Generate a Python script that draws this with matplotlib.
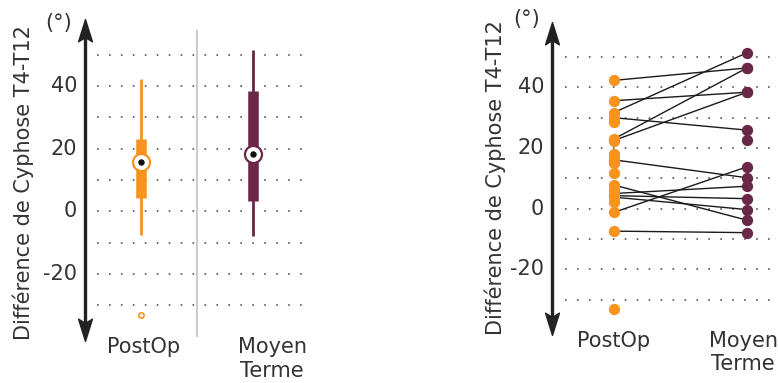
import numpy as np
import matplotlib
matplotlib.use("Agg")
import matplotlib.pyplot as plt
from matplotlib.path import Path

plt.rcParams['font.family'] = ['DejaVu Sans']
plt.rcParams['lines.scale_dashes'] = False

# Paired measurements (NaN where a patient has only one time point)
postop = [42.3, 35.6, 31.7, 30.0, 23.0, 22.5, 16.1, 7.8, 5.0, 4.3, 3.8, -1.2, -7.4,
          28.6, 22.3, 18.0, 17.0, 15.2, 11.7, 6.0, 2.2, -33.1, np.nan]
moyen_terme = [46.4, 38.4, 51.4, 25.9, 46.4, 38.4, 10.2, -3.8, 7.4, 3.3, -0.3, 13.8, -7.9,
               np.nan, np.nan, np.nan, np.nan, np.nan, np.nan, np.nan, np.nan, np.nan, 22.6]

categories = ["PostOp", "Moyen\nTerme"]
y_ticks = [40, 20, 0, -20]
grid_levels = [50, 40, 30, 20, 10, 0, -10, -20, -30]
y_label = "Différence de Cyphose T4-T12"
unit_label = "(°)"

ORANGE = "#F7931E"
MAROON = "#6B2747"
TEXT = "#333333"
AXIS = "#222222"
FS = 15

W, H = 778, 383
fig = plt.figure(figsize=(W / 100, H / 100), dpi=100)


def px_axes(left, top, right, bottom):
    return fig.add_axes([left / W, 1 - bottom / H, (right - left) / W, (bottom - top) / H])


# notched arrow head
head = Path([(0, 1), (0.5, -0.6), (0, -0.3), (-0.5, -0.6), (0, 1)],
            [Path.MOVETO, Path.LINETO, Path.LINETO, Path.LINETO, Path.CLOSEPOLY])
head_down = Path(head.vertices * np.array([1, -1]), head.codes)


def decorate(ax, grid_x0, grid_x1):
    ax.set_ylim(-40, 60)
    for s in ax.spines.values():
        s.set_visible(False)
    ax.set_xticks([])
    ax.set_yticks([])
    ax.hlines(grid_levels, grid_x0, grid_x1, colors="#555555", linewidth=1.2,
              linestyles=(0, (1.2, 7.4)), zorder=1)
    # double-headed vertical axis
    ax.plot([0, 0], [0.03, 0.97], transform=ax.transAxes, color=AXIS, lw=2.4,
            solid_capstyle="butt", clip_on=False, zorder=5)
    ax.plot([0], [0.97], transform=ax.transAxes, marker=head, markersize=20,
            color=AXIS, clip_on=False, zorder=6)
    ax.plot([0], [0.03], transform=ax.transAxes, marker=head_down, markersize=20,
            color=AXIS, clip_on=False, zorder=6)
    for t in y_ticks:
        ax.annotate(str(t), xy=(0, t), xycoords=("axes fraction", "data"),
                    xytext=(-5.5, 0), textcoords="offset points",
                    ha="right", va="center", fontsize=FS, color=TEXT)


def cat_label(ax, x, text):
    ax.annotate(text, xy=(x, 0), xycoords=("data", "axes fraction"),
                xytext=(0, -0.5), textcoords="offset points", ha="center", va="top",
                fontsize=FS, color=TEXT, linespacing=1.2, annotation_clip=False)


def tukey_stats(values):
    v = np.sort(np.asarray([x for x in values if not np.isnan(x)]))
    n = len(v)
    med = np.median(v)
    half = (n + 1) // 2
    lower, upper = v[:half], v[n - half:]
    q1, q3 = np.median(lower), np.median(upper)
    iqr = q3 - q1
    inside = v[(v >= q1 - 1.5 * iqr) & (v <= q3 + 1.5 * iqr)]
    out = v[(v < q1 - 1.5 * iqr) | (v > q3 + 1.5 * iqr)]
    return q1, med, q3, inside.min(), inside.max(), out


# ---------- left panel: box plots ----------
ax1 = px_axes(85, 23.3, 305, 336.7)
ax1.set_xlim(0.5, 2.464)
decorate(ax1, 0.607, 2.45)
ax1.axvline(1.5, ymin=0, ymax=0.975, color="#cccccc", lw=1.5, zorder=2)

for x, vals, col in [(1, postop, ORANGE), (2, moyen_terme, MAROON)]:
    q1, med, q3, lo, hi, out = tukey_stats(vals)
    ax1.vlines(x, lo, hi, colors=col, lw=2.0, zorder=3)
    ax1.vlines(x, q1, q3, colors=col, lw=7.6, zorder=3)
    ax1.scatter([x], [med], s=150, facecolor="white", edgecolor=col, linewidth=1.6, zorder=4)
    ax1.scatter([x], [med], s=13, color="#111111", zorder=5)
    if len(out):
        ax1.scatter(np.full(len(out), x), out, s=14, facecolor="white", edgecolor=col,
                    linewidth=1.2, zorder=4)

cat_label(ax1, 1.02, categories[0])
cat_label(ax1, 2.17, categories[1])

fig.text(23 / W, 1 - 182.5 / H, y_label, rotation=90, ha="center", va="center",
         fontsize=FS, color=TEXT)
fig.text(59 / W, 1 - 23 / H, unit_label, ha="center", va="center", fontsize=FS, color=TEXT)

# ---------- right panel: paired points ----------
ax2 = px_axes(551.7, 26.7, 778, 330)
ax2.set_xlim(0.532, 2.233)
decorate(ax2, 0.632, 2.233)

pre = np.asarray(postop, dtype=float)
post = np.asarray(moyen_terme, dtype=float)
both = ~np.isnan(pre) & ~np.isnan(post)
for a, b in zip(pre[both], post[both]):
    ax2.plot([1, 2], [a, b], color="#1a1a1a", lw=1.0, zorder=3)
ax2.scatter(np.ones((~np.isnan(pre)).sum()), pre[~np.isnan(pre)], s=66, color=ORANGE,
            zorder=4, linewidths=0)
ax2.scatter(np.full((~np.isnan(post)).sum(), 2), post[~np.isnan(post)], s=66, color=MAROON,
            zorder=4, linewidths=0)

cat_label(ax2, 1.0, categories[0])
cat_label(ax2, 1.97, categories[1])

fig.text(495 / W, 1 - 178 / H, y_label, rotation=90, ha="center", va="center",
         fontsize=FS, color=TEXT)
fig.text(527 / W, 1 - 19 / H, unit_label, ha="center", va="center", fontsize=FS, color=TEXT)

fig.savefig("out.png", dpi=100)
